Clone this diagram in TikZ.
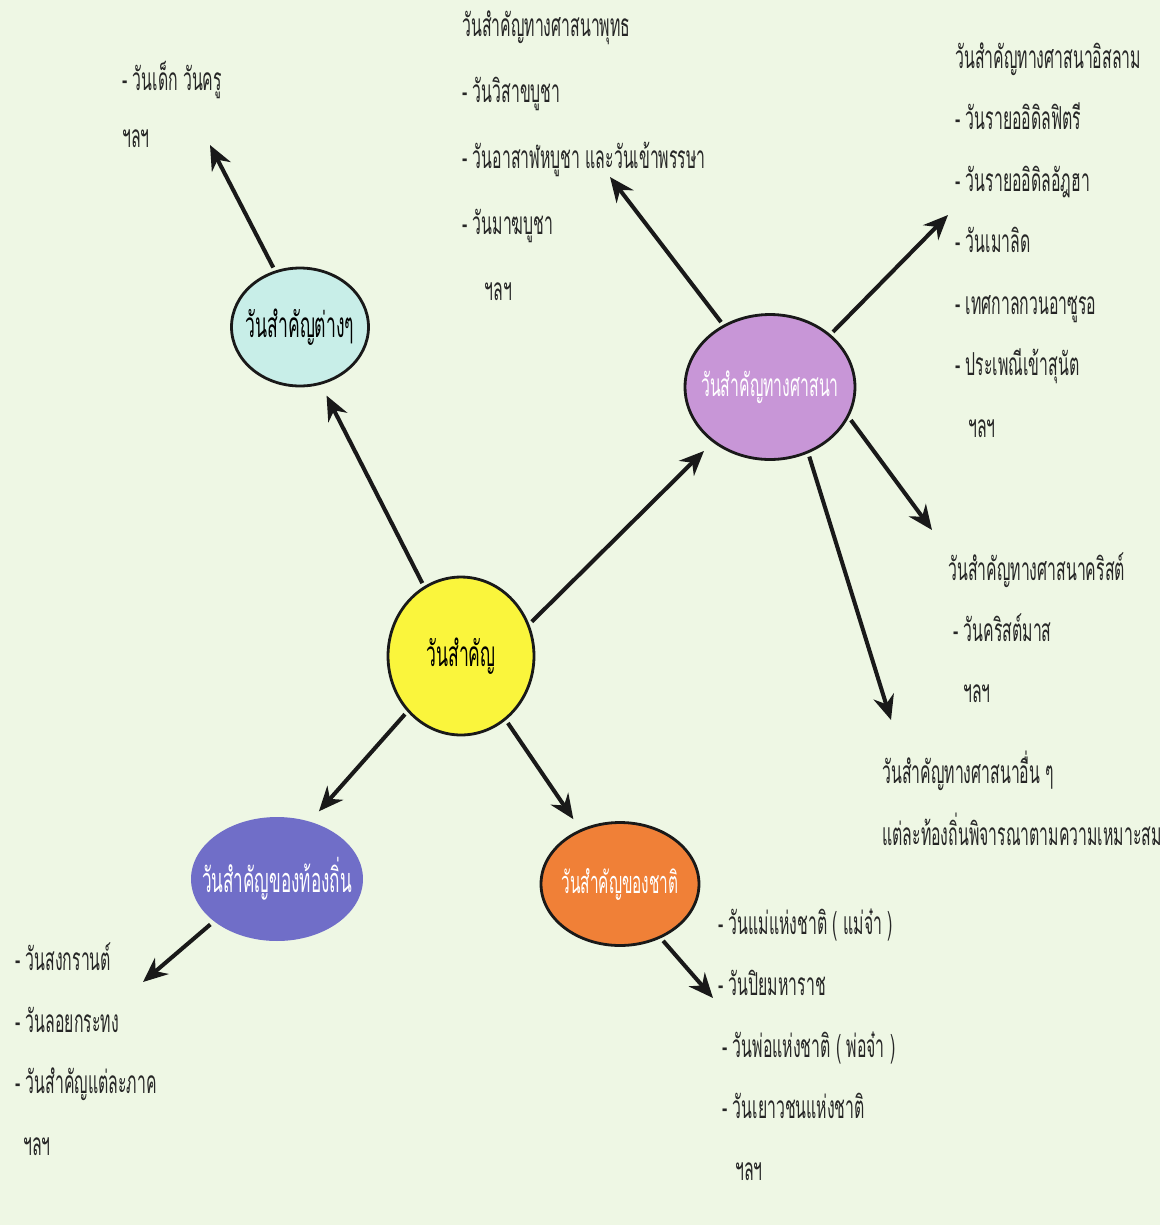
\documentclass[tikz,border=0pt]{standalone}
\usepackage{fontspec}
\setmainfont{Loma}[Script=Thai,FakeStretch=0.5]
\usetikzlibrary{shapes.geometric,arrows.meta}
\definecolor{bgmint}{RGB}{238,247,228}
\definecolor{yelfill}{RGB}{250,245,60}
\definecolor{misfill}{RGB}{200,238,232}
\definecolor{relfill}{RGB}{200,150,215}
\definecolor{locfill}{RGB}{112,110,200}
\definecolor{natfill}{RGB}{240,128,55}
\newcommand{\ctr}[1]{\makebox[0pt]{#1}}

\begin{document}
\begin{tikzpicture}[x=0.02cm,y=-0.02cm,
  oval/.style={ellipse,draw=black!90,line width=1.6pt,inner sep=0pt,font=\fontsize{18}{20}\selectfont},
  lst/.style={anchor=base west,align=left,inner sep=0pt,text=black!85,font=\fontsize{18}{35}\selectfont},
  arr/.style={line width=2.3pt,draw=black!90,-{Stealth[length=14pt,width=12pt]},shorten <=2pt}]
   \fill[bgmint] (0,0) rectangle (1160,1225);
   \useasboundingbox (0,0) rectangle (1160,1225);
   % ellipses
   \node[oval,fill=yelfill,minimum width=2.92cm,minimum height=3.16cm,font=\fontsize{20}{22}\selectfont] (yel) at (461,656) {\ctr{วันสำคัญ}};
   \node[oval,fill=misfill,minimum width=2.74cm,minimum height=2.36cm,font=\fontsize{20}{22}\selectfont] (mis) at (300,327) {\ctr{วันสำคัญต่างๆ}};
   \node[oval,fill=relfill,minimum width=3.4cm,minimum height=2.9cm,text=white] (rel) at (770,387) {\ctr{วันสำคัญทางศาสนา}};
   \node[oval,fill=locfill,draw=none,minimum width=3.44cm,minimum height=2.48cm,text=white,font=\fontsize{19.5}{21}\selectfont] (loc) at (277,879) {\ctr{วันสำคัญของท้องถิ่น}};
   \node[oval,fill=natfill,minimum width=3.16cm,minimum height=2.46cm,text=white,font=\fontsize{17.5}{19}\selectfont] (nat) at (620,884) {\ctr{วันสำคัญของชาติ}};
   % lists (placed by the baseline of their last line)
   \node[lst,font=\fontsize{18}{32}\selectfont] (mislist) at (122,147) {- วันเด็ก วันครู\\ฯลฯ};
   \node[lst,font=\fontsize{18}{37.5}\selectfont] (budlist) at (462,300) {วันสำคัญทางศาสนาพุทธ\\ - วันวิสาขบูชา\\ - วันอาสาฬหบูชา และวันเข้าพรรษา\\ - วันมาฆบูชา\\\hspace{0.45cm}ฯลฯ};
   \node[lst] (islist) at (955,437) {วันสำคัญทางศาสนาอิสลาม\\- วันรายออิดิลฟิตรี\\- วันรายออิดิลอัฎฮา\\- วันเมาลิด\\- เทศกาลกวนอาซูรอ\\- ประเพณีเข้าสุนัต\\\hspace{0.26cm}ฯลฯ};
   \node[lst,font=\fontsize{18}{34.5}\selectfont] (chrlist) at (948,702) {วันสำคัญทางศาสนาคริสต์\\\hspace{0.1cm}- วันคริสต์มาส\\\hspace{0.3cm}ฯลฯ};
   \node[lst] (othlist) at (882,845) {วันสำคัญทางศาสนาอื่น ๆ\\แต่ละท้องถิ่นพิจารณาตามความเหมาะสม};
   \node[lst] (loclist) at (15,1155) {- วันสงกรานต์\\- วันลอยกระทง\\- วันสำคัญแต่ละภาค\\\hspace{0.16cm}ฯลฯ};
   \node[lst] (natlist) at (718,1180) {- วันแม่แห่งชาติ ( แม่จ๋า )\\- วันปิยมหาราช\\\hspace{0.08cm}- วันพ่อแห่งชาติ ( พ่อจ๋า )\\\hspace{0.08cm}- วันเยาวชนแห่งชาติ\\\hspace{0.34cm}ฯลฯ};
   % arrow tips near the lists
   \coordinate (tmis) at (210,145);
   \coordinate (tbud) at (610,177);
   \coordinate (tis) at (948,215);
   \coordinate (tchr) at (932,530);
   \coordinate (toth) at (891,720);
   \coordinate (tloc) at (143,982);
   \coordinate (tnat) at (713,998);
   % arrows
   \draw[arr,shorten >=7pt] (yel.118) -- (mis.290);
   \draw[arr,shorten >=7pt] (yel.25) -- (rel.224);
   \draw[arr,shorten >=7pt] (yel.226) -- (loc.60);
   \draw[arr,shorten >=7pt] (yel.305) -- (nat.126);
   \draw[arr] (mis.114) -- (tmis);
   \draw[arr] (rel.127) -- (tbud);
   \draw[arr] (rel.41) -- (tis);
   \draw[arr] (rel.339) -- (tchr);
   \draw[arr] (rel.300) -- (toth);
   \draw[arr] (loc.214) -- (tloc);
   \draw[arr] (nat.307) -- (tnat);
\end{tikzpicture}
\end{document}
